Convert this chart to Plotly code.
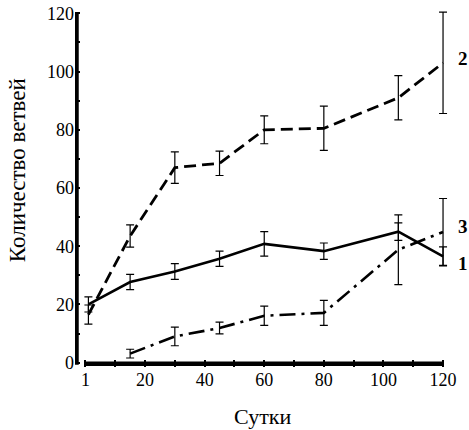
import plotly.graph_objects as go

# Data
days = [1, 15, 30, 45, 60, 80, 105, 120]
s1 = [20, 27.7, 31.3, 35.7, 40.8, 38.3, 45, 36.5]
e1 = [2.6, 2.6, 2.7, 2.6, 4.2, 2.8, 3.0, 3.3]
s2 = [16.5, 43.5, 67, 68.5, 80, 80.5, 91, 103]
e2 = [3.3, 3.8, 5.4, 4.2, 4.8, 7.6, 7.6, 17.4]
days3 = [15, 30, 45, 60, 80, 105, 120]
s3 = [3.1, 9, 11.9, 16.1, 17.1, 38.8, 44.9]
e3 = [1.5, 3.2, 2.0, 3.3, 4.3, 12, 11.5]

x_tickvals = list(range(0, 121, 10))
x_ticktext = ["1", "", "20", "", "40", "", "60", "", "80", "", "100", "", "120"]
y_tickvals = list(range(0, 121, 10))
y_ticktext = ["0", "", "20", "", "40", "", "60", "", "80", "", "100", "", "120"]
series_labels = [("2", 104.5), ("3", 46.7), ("1", 34)]

W, H = 469, 430
X_RANGE = [-3.5, 122]
Y_RANGE = [-1.5, 121.5]
X_AXIS_SPAN = [-0.3, 120]
Y_AXIS_X = -3.0
Y_AXIS_SPAN = [-0.7, 120]
X_AXIS_Y = -0.4

ml, mr, mt, mb = 74.6, 20, 9.1, 62.6
pw = W - ml - mr
ph = H - mt - mb

font_family = "Liberation Serif"

def err(vals):
    return dict(type="data", array=vals, visible=True, color="black", thickness=1.2, width=4)

fig = go.Figure()
fig.add_trace(go.Scatter(x=days, y=s1, mode="lines", line=dict(color="black", width=2.6),
                         error_y=err(e1), showlegend=False, cliponaxis=False))
fig.add_trace(go.Scatter(x=days, y=s2, mode="lines", line=dict(color="black", width=2.8, dash="12px,6px"),
                         error_y=err(e2), showlegend=False, cliponaxis=False))
fig.add_trace(go.Scatter(x=days3, y=s3, mode="lines", line=dict(color="black", width=2.6, dash="16px,6px,3px,6px"),
                         error_y=err(e3), showlegend=False, cliponaxis=False))

# axis lines (offset, as in the original figure)
fig.add_trace(go.Scatter(x=X_AXIS_SPAN, y=[X_AXIS_Y, X_AXIS_Y], mode="lines",
                         line=dict(color="black", width=4.5), showlegend=False, hoverinfo="skip"))
fig.add_trace(go.Scatter(x=[Y_AXIS_X, Y_AXIS_X], y=Y_AXIS_SPAN, mode="lines",
                         line=dict(color="black", width=4.5), showlegend=False, hoverinfo="skip"))

for txt, yv in series_labels:
    fig.add_annotation(x=120, y=yv, xref="x", yref="y", text="<b>%s</b>" % txt, showarrow=False,
                       xanchor="left", yanchor="middle", xshift=13,
                       font=dict(family=font_family, size=19, color="black"))

fig.add_annotation(x=(17 - ml) / pw, y=(H - mb - 170) / ph, xref="paper", yref="paper",
                   xanchor="center", yanchor="middle",
                   text="Количество ветвей", textangle=-90, showarrow=False,
                   font=dict(family=font_family, size=23, color="black"))
fig.add_annotation(x=(262 - ml) / pw, y=(H - mb - 417) / ph, xref="paper", yref="paper",
                   xanchor="center", yanchor="middle",
                   text="Сутки", showarrow=False,
                   font=dict(family=font_family, size=22, color="black"))

fig.update_layout(
    width=W, height=H,
    margin=dict(l=ml, r=mr, t=mt, b=mb, autoexpand=False),
    paper_bgcolor="white", plot_bgcolor="white",
    xaxis=dict(range=X_RANGE, showgrid=False, zeroline=False, showline=False,
               tickmode="array", tickvals=x_tickvals, ticktext=x_ticktext,
               ticks="inside", ticklen=7, tickwidth=2, tickcolor="black",
               tickfont=dict(family=font_family, size=18, color="black")),
    yaxis=dict(range=Y_RANGE, showgrid=False, zeroline=False, showline=False,
               tickmode="array", tickvals=y_tickvals, ticktext=y_ticktext,
               ticks="inside", ticklen=5, tickwidth=2, tickcolor="black",
               tickfont=dict(family=font_family, size=18, color="black")),
)

fig.write_html("out.html")
